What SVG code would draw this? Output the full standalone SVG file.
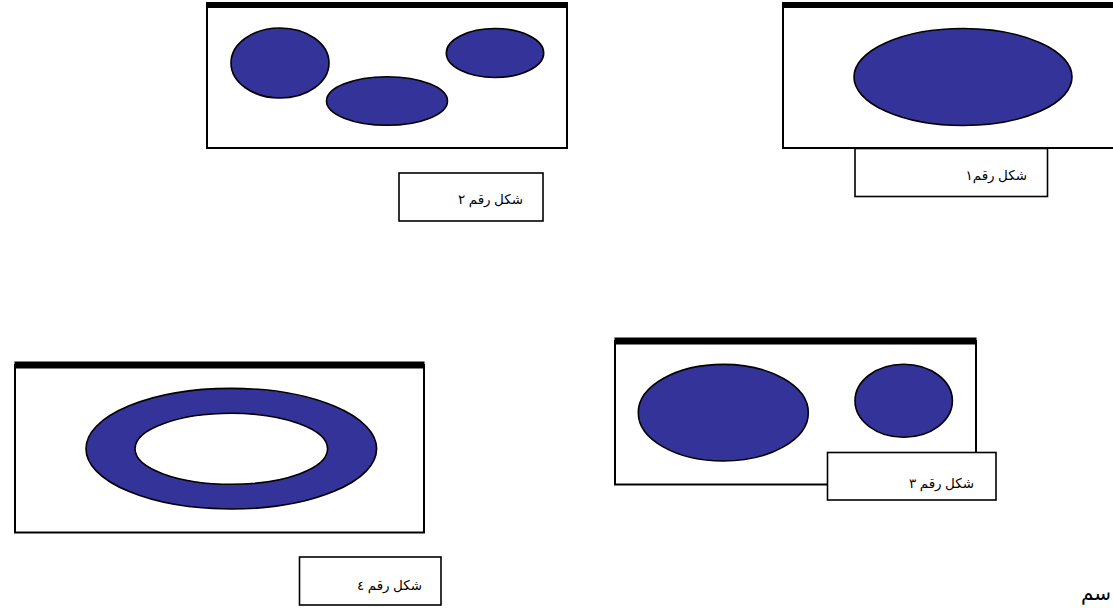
<svg xmlns="http://www.w3.org/2000/svg" width="1113" height="611" viewBox="0 0 1113 611">
  <style>
    .frame { fill: #ffffff; stroke: #000000; stroke-width: 2; }
    .bar { fill: #000000; }
    .blob { fill: #333399; stroke: #000000; stroke-width: 1.6; }
    .hole { fill: #ffffff; stroke: #000000; stroke-width: 1.6; }
    .tag { fill: #ffffff; stroke: #000000; stroke-width: 1.6; }
    .cap { font-family: "Liberation Serif", "DejaVu Sans", serif; font-size: 13.5px; fill: #000000; text-anchor: end; }
  </style>

  <!-- Figure 2: three separate ellipses -->
  <g id="fig2">
    <rect class="frame" x="207" y="5" width="360" height="143"/>
    <rect class="bar" x="206" y="2" width="362" height="6"/>
    <ellipse class="blob" cx="280" cy="63" rx="49" ry="35"/>
    <ellipse class="blob" cx="387" cy="101" rx="60.5" ry="24.3"/>
    <ellipse class="blob" cx="495" cy="53" rx="48.7" ry="24.5"/>
  </g>
  <g id="label2">
    <rect class="tag" x="399" y="173" width="144" height="48"/>
    <text class="cap" x="523" y="204">شكل رقم ٢</text>
  </g>

  <!-- Figure 1: one large ellipse -->
  <g id="fig1">
    <rect class="frame" x="783" y="5" width="340" height="143"/>
    <rect class="bar" x="782" y="2" width="340" height="6"/>
    <ellipse class="blob" cx="963" cy="77" rx="109" ry="48.5"/>
  </g>
  <g id="label1">
    <rect class="tag" x="855" y="148.5" width="192.5" height="48"/>
    <text class="cap" x="1027" y="180">شكل رقم١</text>
  </g>

  <!-- Figure 3: two ellipses of different size -->
  <g id="fig3">
    <rect class="frame" x="615" y="341" width="361" height="143.5"/>
    <rect class="bar" x="614.5" y="337.5" width="362" height="7"/>
    <ellipse class="blob" cx="723.3" cy="412.7" rx="85" ry="48.3"/>
    <ellipse class="blob" cx="903.7" cy="400.8" rx="48.7" ry="36.5"/>
  </g>
  <g id="label3">
    <rect class="tag" x="827.5" y="452.5" width="168.5" height="47.5"/>
    <text class="cap" x="974" y="488">شكل رقم ٣</text>
  </g>

  <!-- Figure 4: ring (ellipse with a hole) -->
  <g id="fig4">
    <rect class="frame" x="15" y="365" width="409" height="167.5"/>
    <rect class="bar" x="14.5" y="361.5" width="410" height="7"/>
    <ellipse class="blob" cx="231.3" cy="448.7" rx="145.3" ry="60.3"/>
    <ellipse class="hole" cx="231.3" cy="448.8" rx="96.3" ry="35.5"/>
  </g>
  <g id="label4">
    <rect class="tag" x="299.5" y="557" width="141.5" height="48"/>
    <text class="cap" x="422" y="590">شكل رقم ٤</text>
  </g>

  <!-- Partial word at the lower right edge -->
  <text x="1111" y="600" text-anchor="end" font-family="'Liberation Serif', 'DejaVu Sans', serif" font-size="20" fill="#000000">سم</text>

  <g id="connectors"></g>
</svg>
